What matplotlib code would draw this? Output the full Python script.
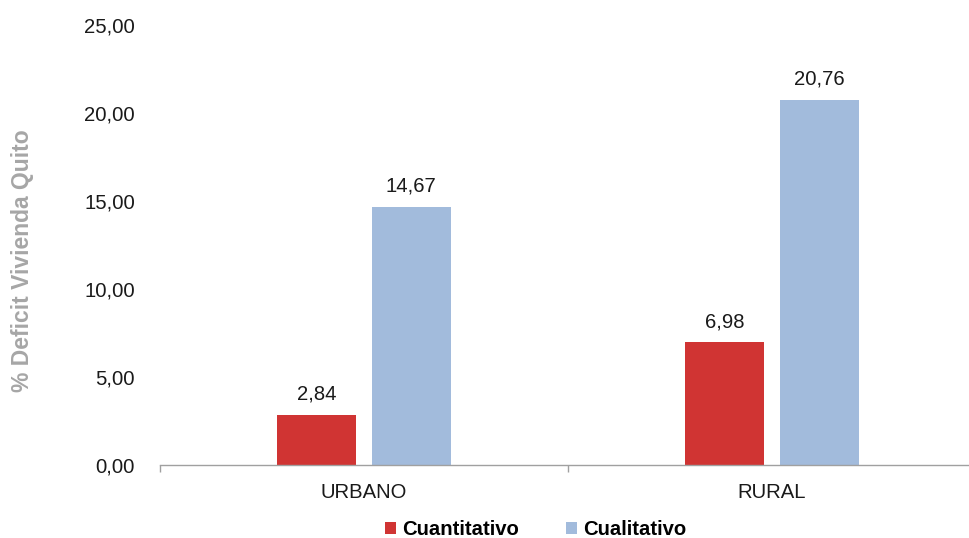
import matplotlib
matplotlib.use("Agg")
import matplotlib.pyplot as plt
from matplotlib.ticker import FuncFormatter, FixedLocator
import numpy as np

plt.rcParams['font.family'] = ['Liberation Sans', 'DejaVu Sans']

categories = ["URBANO", "RURAL"]
series_names = ["Cuantitativo", "Cualitativo"]
cuantitativo = [2.84, 6.98]
cualitativo = [14.67, 20.76]
y_ticks = [0, 5, 10, 15, 20, 25]

colors = ["#D03433", "#A2BBDC"]

fig = plt.figure(figsize=(9.69, 5.38), dpi=100)
ax = fig.add_axes([0.165, 0.1357, 0.842, 0.8178])

x = np.arange(len(categories))
w = 0.194
off = 0.116
b1 = ax.bar(x - off, cuantitativo, w, color=colors[0], label=series_names[0])
b2 = ax.bar(x + off, cualitativo, w, color=colors[1], label=series_names[1])

def fmt(v):
    return f"{v:.2f}".replace(".", ",")

for bars, vals in ((b1, cuantitativo), (b2, cualitativo)):
    for r, v in zip(bars, vals):
        ax.annotate(fmt(v), (r.get_x() + r.get_width() / 2, v),
                    xytext=(0, 8), textcoords="offset points",
                    ha="center", va="bottom", fontsize=14.6, color="#1a1a1a")

ax.set_xlim(-0.5, 1.5)
ax.set_ylim(0, 25)
ax.set_yticks(y_ticks)
ax.yaxis.set_major_formatter(FuncFormatter(lambda v, p: fmt(v)))
ax.set_xticks(x)
ax.set_xticklabels(categories)
ax.xaxis.set_minor_locator(FixedLocator([-0.5, 0.5, 1.5]))
ax.tick_params(axis="x", which="major", length=0, pad=13, labelsize=14.6, labelcolor="#1a1a1a")
ax.tick_params(axis="x", which="minor", length=5, width=1, color="#A0A0A0", direction="out")
ax.tick_params(axis="y", length=0, pad=18, labelsize=14.6, labelcolor="#1a1a1a")

for s in ("top", "right", "left"):
    ax.spines[s].set_visible(False)
ax.spines["bottom"].set_color("#A0A0A0")
ax.spines["bottom"].set_linewidth(1)

fig.text(0.023, 0.515, "% Deficit Vivienda Quito", rotation=90, ha="center", va="center",
         fontsize=16.5, fontweight="bold", color="#A6A6A6")

leg = fig.legend(handles=[b1, b2], loc="center", bbox_to_anchor=(0.553, 0.015),
                 ncol=2, frameon=False, prop={"weight": "bold", "size": 14.6},
                 handlelength=0.55, handleheight=0.55, handletextpad=0.3, columnspacing=2.3)

fig.savefig("out.png", dpi=100)
